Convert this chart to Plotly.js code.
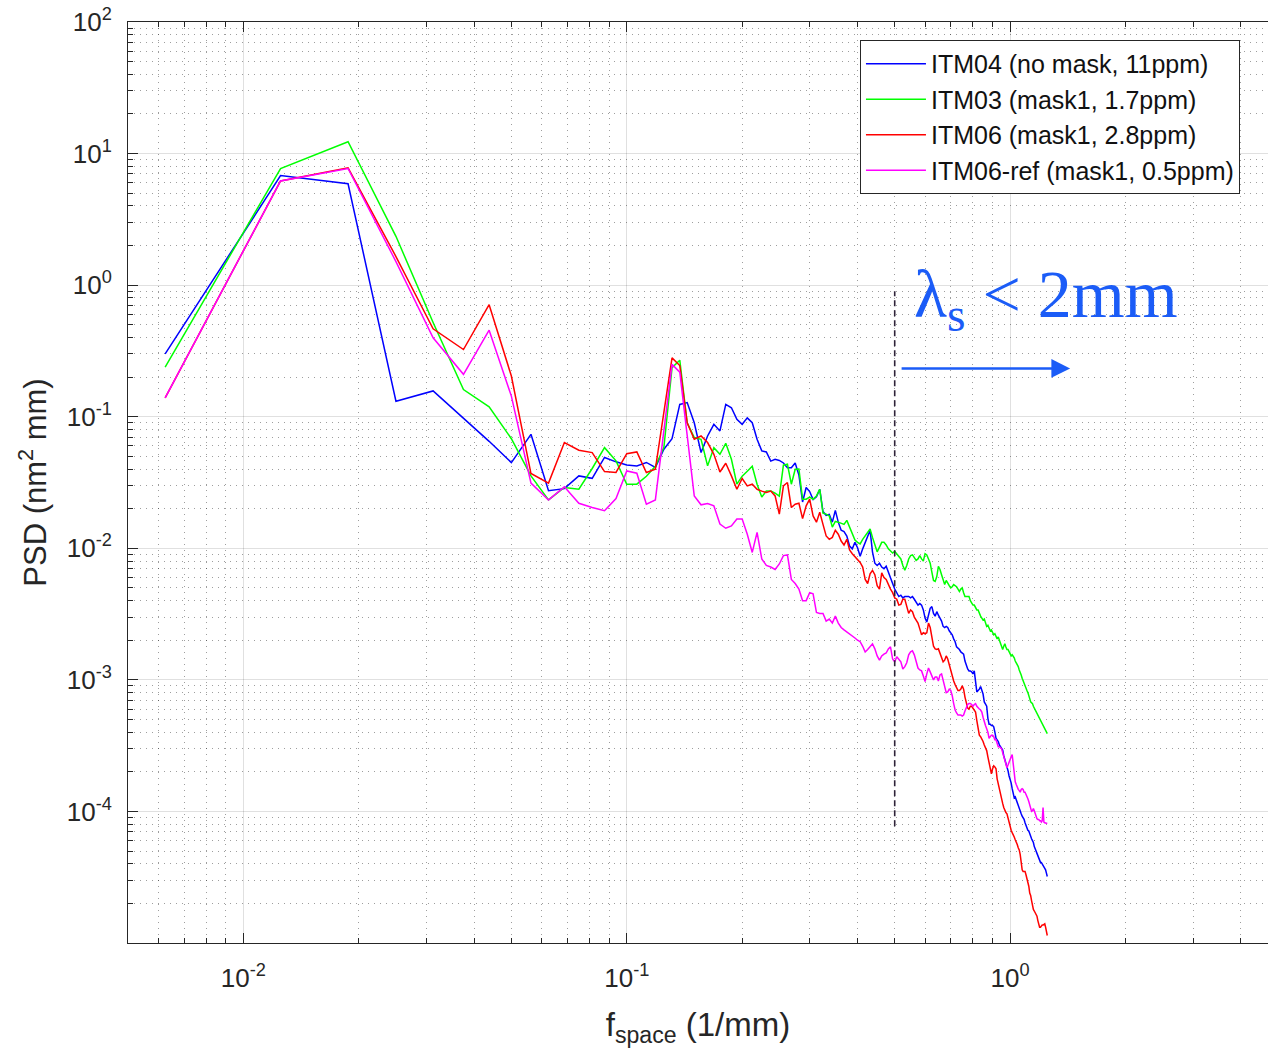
<!DOCTYPE html>
<html>
<head>
<meta charset="utf-8">
<script src="https://cdn.plot.ly/plotly-3.0.1.min.js"></script>
<style>html,body{margin:0;padding:0;background:#fff;}#chart{width:1268px;height:1055px;}</style>
</head>
<body>
<div id="chart"></div>
<script>
// spatial frequency (1/mm)
const freq = [
0.00625,0.0125,0.01875,0.025,0.03125,0.0375,0.04375,0.05,0.05625,0.0625,0.06875,0.075,0.08125,0.0875,0.09375,0.1,
0.10625,0.1125,0.11875,0.125,0.13125,0.1375,0.14375,0.15,0.15625,0.1625,0.16875,0.175,0.18125,0.1875,0.19375,0.2,
0.20625,0.2125,0.21875,0.225,0.23125,0.2375,0.24375,0.25,0.25625,0.2625,0.26875,0.275,0.28125,0.2875,0.29375,0.3,
0.30625,0.3125,0.31875,0.325,0.33125,0.3375,0.34375,0.35,0.35625,0.3625,0.36875,0.375,0.38125,0.3875,0.39375,0.4,
0.40625,0.4125,0.41875,0.425,0.43125,0.4375,0.44375,0.45,0.45625,0.4625,0.46875,0.475,0.48125,0.4875,0.49375,0.5,
0.50625,0.5125,0.51875,0.525,0.53125,0.5375,0.54375,0.55,0.55625,0.5625,0.56875,0.575,0.58125,0.5875,0.59375,0.6,
0.60625,0.6125,0.61875,0.625,0.63125,0.6375,0.64375,0.65,0.65625,0.6625,0.66875,0.675,0.68125,0.6875,0.69375,0.7,
0.70625,0.7125,0.71875,0.725,0.73125,0.7375,0.74375,0.75,0.75625,0.7625,0.76875,0.775,0.78125,0.7875,0.79375,0.8,
0.80625,0.8125,0.81875,0.825,0.83125,0.8375,0.84375,0.85,0.85625,0.8625,0.86875,0.875,0.88125,0.8875,0.89375,0.9,
0.90625,0.9125,0.91875,0.925,0.93125,0.9375,0.94375,0.95,0.95625,0.9625,0.96875,0.975,0.98125,0.9875,0.99375,1.0,
1.00625,1.0125,1.01875,1.025,1.03125,1.0375,1.04375,1.05,1.05625,1.0625,1.06875,1.075,1.08125,1.0875,1.09375,1.1,
1.10625,1.1125,1.11875,1.125,1.13125,1.1375,1.14375,1.15,1.15625,1.1625,1.16875,1.175,1.18125,1.1875,1.19375,1.2,
1.20625,1.2125,1.21875,1.225,1.23125,1.2375,1.24375,1.25
];

const psdITM04 = [
0.30,6.8,5.9,0.131,0.157,0.098,0.065,0.0448,0.0735,0.0274,
0.0284,0.0355,0.034,0.049,0.0454,0.043,0.0423,0.0449,0.0411,0.0566,
0.0682,0.124,0.128,0.090,0.0534,0.0714,0.0876,0.078,0.124,0.117,
0.0955,0.0876,0.098,0.090,0.0675,0.055,0.054,0.046,0.0475,0.0465,
0.0445,0.041,0.041,0.0445,0.036,0.0225,0.029,0.027,0.0235,0.0246,
0.0281,0.019,0.0178,0.0181,0.0158,0.0194,0.0158,0.0137,0.0134,0.0124,
0.0104,0.0099,0.0111,0.0101,0.0087,0.0099,0.0111,0.0124,0.0137,0.0094,
0.0077,0.0074,0.0077,0.0072,0.0070,0.0073,0.0065,0.0059,0.0054,0.0049,
0.0046,0.0043,0.0044,0.0042,0.0043,0.0043,0.0043,0.0042,0.0043,0.0041,
0.0039,0.0037,0.0038,0.0037,0.0034,0.00295,0.00275,0.0031,0.0035,0.0036,
0.0032,0.00305,0.0033,0.0031,0.00295,0.0028,0.00255,0.0025,0.00255,0.0025,
0.00236,0.00228,0.0022,0.00205,0.00195,0.00178,0.00175,0.0017,0.00163,0.0016,
0.00157,0.00139,0.00128,0.00121,0.00117,0.00117,0.00115,0.00111,0.00117,0.00098,
0.00081,0.00083,0.00085,0.00089,0.00084,0.00078,0.00068,0.00066,0.00063,0.00051,
0.00046,0.00046,0.00045,0.00045,0.00044,0.0004,0.00036,0.00035,0.00034,0.00032,
0.00031,0.0003,0.000293,0.000265,0.00025,0.000234,0.000215,0.000204,0.000186,0.000177,
0.000165,0.000149,0.000132,0.000127,0.000129,0.000122,0.000117,0.00011,0.000107,0.000101,
0.000096,0.000092,0.00009,0.000087,0.000082,0.000078,0.000075,0.000072,0.000071,0.000067,
0.000064,0.000062,0.00006,0.000058,0.000054,0.000051,0.00005,0.000048,0.000046,0.000045,
0.000043,0.000041,0.000041,0.00004,0.000039,0.000038,0.000037,0.000036,0.000034,0.000032
];

const psdITM03 = [
0.238,7.7,12.3,2.35,0.52,0.161,0.119,0.068,0.0355,0.0233,
0.029,0.0281,0.0404,0.0582,0.0462,0.0307,0.0307,0.0353,0.042,0.0586,
0.236,0.269,0.090,0.0694,0.0674,0.0423,0.0582,0.0518,0.0628,0.0475,
0.0307,0.0353,0.0385,0.042,0.0307,0.0245,0.0272,0.0272,0.0262,0.0249,
0.0428,0.0435,0.0307,0.0399,0.040,0.0236,0.0236,0.0245,0.0236,0.025,
0.0281,0.0185,0.0182,0.0176,0.0145,0.016,0.0158,0.0155,0.0152,0.0163,
0.0145,0.0126,0.01155,0.0111,0.0108,0.0117,0.0124,0.0131,0.014,0.0121,
0.0106,0.0094,0.0102,0.0111,0.0111,0.0106,0.0099,0.0095,0.0092,0.0095,
0.0091,0.0088,0.0083,0.0074,0.0068,0.0074,0.0083,0.0088,0.0089,0.0085,
0.0081,0.0083,0.0088,0.0083,0.0080,0.0091,0.0089,0.0083,0.0077,0.0066,
0.0057,0.0056,0.0061,0.0073,0.0069,0.0063,0.0057,0.0053,0.0057,0.0054,
0.0052,0.0050,0.0051,0.0053,0.0052,0.0051,0.0049,0.0047,0.0049,0.0050,
0.0046,0.0043,0.0043,0.0043,0.0043,0.0040,0.0038,0.0037,0.0037,0.0035,
0.0034,0.0034,0.0032,0.00305,0.00295,0.00285,0.0029,0.0027,0.00255,0.0026,
0.0025,0.00236,0.0024,0.00228,0.0022,0.00224,0.00212,0.00205,0.00212,0.0020,
0.0019,0.00178,0.0017,0.0018,0.00188,0.00178,0.0017,0.0017,0.00163,0.00157,
0.00152,0.00155,0.00152,0.00147,0.00139,0.00135,0.00132,0.00126,0.00119,0.00115,
0.00109,0.00103,0.00098,0.00093,0.00089,0.00085,0.00083,0.0008,0.00077,0.00072,
0.00068,0.00067,0.00066,0.00063,0.00061,0.0006,0.00058,0.00056,0.00054,0.00053,
0.00052,0.0005,0.00048,0.00047,0.00045,0.00044,0.000425,0.00041,0.0004,0.00039
];

const psdITM06 = [
0.139,6.2,7.8,1.65,0.466,0.324,0.71,0.204,0.037,0.0313,
0.0636,0.0556,0.0534,0.0383,0.0377,0.0524,0.054,0.0377,0.0399,0.104,
0.28,0.245,0.090,0.0674,0.0714,0.0636,0.0518,0.038,0.0443,0.0355,
0.0281,0.0339,0.0298,0.0307,0.0281,0.0272,0.0266,0.0272,0.025,0.0182,
0.0298,0.0316,0.0204,0.0216,0.022,0.0168,0.021,0.0236,0.0176,0.0158,
0.0188,0.0152,0.0124,0.0117,0.0121,0.0137,0.0128,0.01135,0.0106,0.0117,
0.0097,0.0091,0.0086,0.0083,0.0078,0.0072,0.0058,0.0054,0.0064,0.0068,
0.0063,0.0052,0.0049,0.0065,0.0060,0.0058,0.0053,0.0049,0.0046,0.0042,
0.0041,0.0037,0.00375,0.0041,0.0041,0.0036,0.0032,0.0034,0.0033,0.0030,
0.00285,0.0027,0.00244,0.0022,0.00228,0.00224,0.00228,0.0027,0.0025,0.00205,
0.0018,0.00172,0.0017,0.00172,0.0016,0.00147,0.00137,0.00141,0.00152,0.00144,
0.0013,0.00117,0.00105,0.00098,0.00092,0.00087,0.00083,0.00083,0.00085,0.0009,
0.00085,0.00074,0.00067,0.00061,0.0006,0.00063,0.00063,0.00061,0.00059,0.00057,
0.00049,0.000425,0.00038,0.00037,0.000356,0.00034,0.00032,0.000305,0.00029,0.00026,
0.00023,0.000207,0.000193,0.000211,0.000222,0.000218,0.000211,0.000177,0.00016,0.000152,
0.00014,0.000127,0.000115,0.000107,0.000101,0.000098,0.000096,0.000088,0.000081,0.000077,
0.000072,0.000069,0.000067,0.000064,0.000061,0.000059,0.000056,0.000053,0.000051,0.000047,
0.000041,0.000036,0.000035,0.000035,0.000035,0.000033,0.000031,0.000029,0.000027,0.000024,
0.000023,0.000021,0.000019,0.000018,0.0000175,0.000017,0.0000163,0.000016,0.0000148,0.000014,
0.0000132,0.0000132,0.0000135,0.0000137,0.0000137,0.000014,0.000014,0.0000132,0.0000122,0.0000114
];

const psdITM06ref = [
0.139,6.2,7.7,1.51,0.398,0.21,0.455,0.1435,0.0313,0.0233,
0.0293,0.022,0.0204,0.0193,0.0239,0.0387,0.0372,0.0216,0.0233,0.075,
0.25,0.218,0.07,0.025,0.0214,0.0219,0.021,0.0153,0.0142,0.0148,
0.0167,0.0167,0.0128,0.0093,0.0132,0.0083,0.0074,0.0072,0.0069,0.0076,
0.0088,0.0089,0.0058,0.0054,0.0049,0.0040,0.0040,0.0046,0.0045,0.00325,
0.0032,0.0032,0.0028,0.0029,0.0027,0.00305,0.0027,0.0025,0.0024,0.00232,
0.00224,0.00216,0.00208,0.0020,0.00195,0.0018,0.00163,0.0017,0.0018,0.00188,
0.00172,0.00152,0.00141,0.00152,0.00157,0.0016,0.00172,0.00178,0.00144,0.00137,
0.0015,0.00144,0.00137,0.00121,0.00126,0.00135,0.00155,0.00163,0.00166,0.00155,
0.00137,0.00123,0.00119,0.00117,0.00107,0.00097,0.00111,0.00123,0.00115,0.00105,
0.0010,0.00105,0.00105,0.00098,0.00109,0.00111,0.0010,0.00089,0.0008,0.00081,
0.00085,0.00083,0.00076,0.00066,0.00059,0.00056,0.00054,0.00054,0.00054,0.00053,
0.00054,0.00058,0.00061,0.00065,0.00066,0.00066,0.00065,0.00063,0.00065,0.00066,
0.00063,0.00061,0.0006,0.00059,0.00057,0.00052,0.00047,0.00045,0.000425,0.0004,
0.00036,0.00037,0.00038,0.00038,0.00037,0.00035,0.00035,0.00033,0.00031,0.00031,
0.000305,0.0003,0.00028,0.00026,0.000247,0.00023,0.000215,0.000225,0.00024,0.00025,
0.00026,0.00027,0.00022,0.000193,0.000168,0.00016,0.000152,0.000147,0.000144,0.00014,
0.000147,0.000149,0.000147,0.00014,0.00014,0.000136,0.000132,0.000125,0.000119,0.000112,
0.000105,0.0001,0.000101,0.000105,0.000101,0.000096,0.000091,0.000088,0.000087,0.000087,
0.000085,0.000085,0.000083,0.000085,0.000107,0.000083,0.000082,0.000082,0.000081,0.000081
];

const seriesNames = ['ITM04 (no mask, 11ppm)','ITM03 (mask1, 1.7ppm)','ITM06 (mask1, 2.8ppm)','ITM06-ref (mask1, 0.5ppm)'];
const seriesColors = ['#0000ff','#00ff00','#ff0000','#ff00ff'];
const seriesData = [psdITM04, psdITM03, psdITM06, psdITM06ref];

// cutoff marker (lambda = 2 mm -> f = 0.5 /mm)
const cutoffX = [0.5, 0.5];
const cutoffY = [7.7e-5, 0.9];

const xTickVals = [0.01, 0.1, 1];
const xTickText = ['10<sup>-2</sup>','10<sup>-1</sup>','10<sup>0</sup>'];
const yTickVals = [1e-4, 1e-3, 1e-2, 1e-1, 1, 10, 100];
const yTickText = ['10<sup>-4</sup>','10<sup>-3</sup>','10<sup>-2</sup>','10<sup>-1</sup>','10<sup>0</sup>','10<sup>1</sup>','10<sup>2</sup>'];

function minorVals(d0, d1) {
  const v = [];
  for (let d = d0; d <= d1; d++) for (let m = 2; m <= 9; m++) v.push(m * Math.pow(10, d));
  return v;
}

const traces = seriesData.map((y, i) => ({
  x: freq, y: y, type: 'scatter', mode: 'lines', name: seriesNames[i],
  line: {color: seriesColors[i], width: 1.5}
}));
traces.push({
  x: cutoffX, y: cutoffY, type: 'scatter', mode: 'lines', showlegend: false, hoverinfo: 'skip',
  line: {color: '#2e2238', width: 1.6, dash: '6px,4px'}
});

const font = 'Liberation Sans, Arial, Helvetica, sans-serif';
const minorGrid = {ticks: 'inside', ticklen: 5, tickcolor: '#262626',
  showgrid: true, gridcolor: 'rgba(0,0,0,0.38)', griddash: '1px,5px', gridwidth: 1};
const axisCommon = {
  type: 'log', showline: true, linecolor: '#262626', linewidth: 1,
  ticks: 'inside', ticklen: 10, tickcolor: '#262626', tickwidth: 1,
  showgrid: true, gridcolor: 'rgba(0,0,0,0.12)', gridwidth: 1, zeroline: false,
  tickmode: 'array', tickfont: {family: font, size: 26, color: '#262626'},
  automargin: false
};

const layout = {
  width: 1268, height: 1055,
  margin: {l: 128, r: 0, t: 22, b: 112},
  paper_bgcolor: '#ffffff', plot_bgcolor: '#ffffff',
  showlegend: true,
  xaxis: Object.assign({}, axisCommon, {
    range: [Math.log10(0.005), 0.6727],
    tickvals: xTickVals, ticktext: xTickText, mirror: 'ticks',
    ticklabelstandoff: 12,
    minor: Object.assign({tickmode: 'array', tickvals: minorVals(-3, 0)}, minorGrid),
    title: {text: 'f<sub>space</sub> (1/mm)', font: {family: font, size: 33, color: '#262626'}, standoff: 20}
  }),
  yaxis: Object.assign({}, axisCommon, {
    range: [-5, 2],
    tickvals: yTickVals, ticktext: yTickText, mirror: false,
    ticklabelstandoff: 10,
    minor: Object.assign({tickmode: 'array', tickvals: minorVals(-5, 1)}, minorGrid),
    title: {text: 'PSD (nm<sup>2</sup> mm)', font: {family: font, size: 31, color: '#262626'}, standoff: 10}
  }),
  legend: {
    x: 0.9754, y: 0.9805, xanchor: 'right', yanchor: 'top',
    bgcolor: '#ffffff', bordercolor: '#262626', borderwidth: 1,
    font: {family: font, size: 25, color: '#111111'},
    itemwidth: 60, tracegroupgap: 0
  },
  annotations: [
    {
      xref: 'x', yref: 'y', x: Math.log10(0.5) + 0.045, y: -0.1,
      xanchor: 'left', yanchor: 'middle', showarrow: false,
      text: '\u03bb<sub>s</sub> &lt; 2mm',
      font: {family: 'Liberation Serif, Times New Roman, serif', size: 68, color: '#1b5cf7'}
    },
    {
      xref: 'x', yref: 'y', x: 0.1565, y: -0.633, ax: -170, ay: 0,
      axref: 'pixel', ayref: 'pixel', text: '', showarrow: true,
      arrowhead: 2, arrowsize: 1.5, arrowwidth: 2.5, arrowcolor: '#1b5cf7'
    }
  ]
};

Plotly.newPlot('chart', traces, layout, {displayModeBar: false, staticPlot: true});
</script>
</body>
</html>
